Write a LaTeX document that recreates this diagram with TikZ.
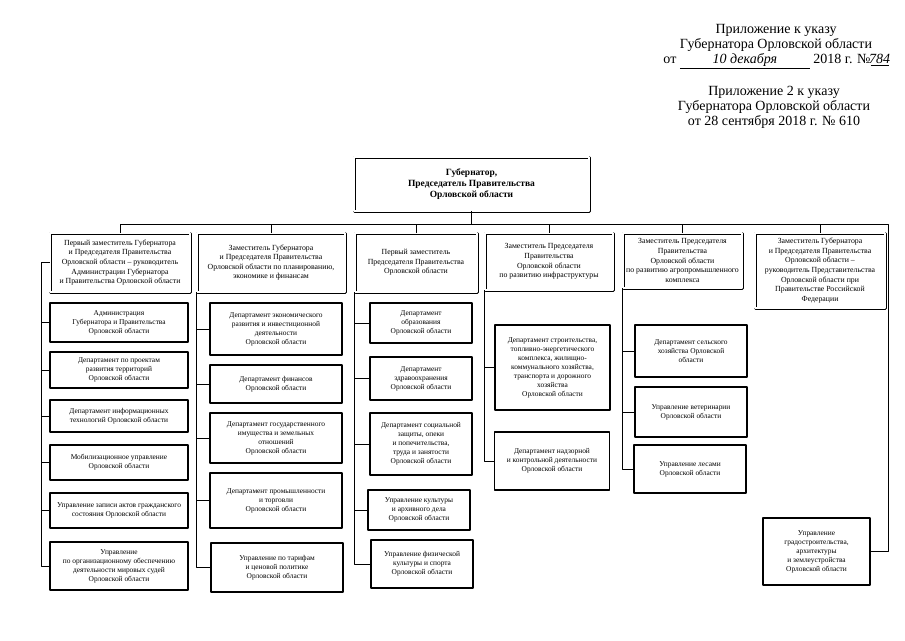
\documentclass[tikz,border=0pt]{standalone}
\usepackage{fontspec}
\setmainfont{Liberation Serif}
\begin{document}
\begin{tikzpicture}[x=1pt,y=-1pt, line join=round,
	gov/.style={draw, double, double distance=1.6pt, line width=.7pt, align=center, inner sep=2pt, font=\bfseries\fontsize{9.5}{11}\selectfont},
	head/.style={draw, double, double distance=1.6pt, line width=.7pt, align=center, inner sep=1.5pt, font=\fontsize{7.8}{9.6}\selectfont},
	dept/.style={draw, line width=1.3pt, align=center, inner sep=2pt, font=\fontsize{7.4}{9}\selectfont},
	colA/.style={dept, minimum width=138pt},
	colB/.style={dept, minimum width=132pt},
	colC/.style={dept, minimum width=102pt},
	colD/.style={dept, minimum width=115pt},
	colE/.style={dept, minimum width=112pt},
	link/.style={line width=.9pt}]
	\useasboundingbox (0,0) rectangle (905,640);
	\node[align=center, inner sep=0pt, font=\fontsize{14}{15}\selectfont] (prilA) at (776,46.7) {Приложение к указу\\Губернатора Орловской области\\от \underline{\makebox[130pt]{\itshape 10 декабря}} 2018 г. №\underline{\makebox[18pt]{\itshape 784}}};
	\node[align=center, inner sep=0pt, font=\fontsize{14}{15}\selectfont] (prilB) at (774,107.5) {Приложение 2 к указу\\Губернатора Орловской области\\от 28 сентября 2018 г. № 610};
	\node[gov, minimum width=235pt, minimum height=54pt] (gov) at (471.5,184) {Губернатор,\\Председатель Правительства\\Орловской области};
	\node[head, minimum width=140pt, minimum height=59pt] (h1) at (120,262.5) {Первый заместитель Губернатора\\и Председателя Правительства\\Орловской области – руководитель\\Администрации Губернатора\\и Правительства Орловской области};
	\node[head, minimum width=148pt, minimum height=59pt] (h2) at (271,262.5) {Заместитель Губернатора\\и Председателя Правительства\\Орловской области по планированию,\\экономике и финансам};
	\node[head, minimum width=122pt, minimum height=59pt] (h3) at (416,262.5) {Первый заместитель\\Председателя Правительства\\Орловской области};
	\node[head, minimum width=128pt, minimum height=57pt] (h4) at (549,261.5) {Заместитель Председателя\\Правительства\\Орловской области\\по развитию инфраструктуры};
	\node[head, minimum width=119pt, minimum height=55pt] (h5) at (682.5,260.5) {Заместитель Председателя\\Правительства\\Орловской области\\по развитию агропромышленного\\комплекса};
	\node[head, minimum width=130pt, minimum height=75pt] (h6) at (820,270.5) {Заместитель Губернатора\\и Председателя Правительства\\Орловской области –\\руководитель Представительства\\Орловской области при\\Правительстве Российской\\Федерации};
	\node[colA, minimum height=39pt] (a1) at (119,322.5) {Администрация\\Губернатора и Правительства\\Орловской области};
	\node[colA, minimum height=36pt] (a2) at (119,370) {Департамент по проектам\\развития территорий\\Орловской области};
	\node[colA, minimum height=32pt] (a3) at (119,416) {Департамент информационных\\технологий Орловской области};
	\node[colA, minimum height=35pt] (a4) at (119,462.5) {Мобилизационное управление\\Орловской области};
	\node[colA, minimum height=35pt] (a5) at (119,510.5) {Управление записи актов гражданского\\состояния Орловской области};
	\node[colA, minimum height=48pt] (a6) at (119,566) {Управление\\по организационному обеспечению\\деятельности мировых судей\\Орловской области};
	\node[colB, minimum height=52pt] (b1) at (276,329) {Департамент экономического\\развития и инвестиционной\\деятельности\\Орловской области};
	\node[colB, minimum height=38pt] (b2) at (276,384) {Департамент финансов\\Орловской области};
	\node[colB, minimum height=50pt] (b3) at (276,438) {Департамент государственного\\имущества и земельных\\отношений\\Орловской области};
	\node[colB, minimum height=55pt] (b4) at (276,500.5) {Департамент промышленности\\и торговли\\Орловской области};
	\node[colB, minimum height=49pt] (b5) at (277,567.5) {Управление по тарифам\\и ценовой политике\\Орловской области};
	\node[colC, minimum height=40pt] (c1) at (421,323) {Департамент\\образования\\Орловской области};
	\node[colC, minimum height=43pt] (c2) at (421,378.5) {Департамент\\здравоохранения\\Орловской области};
	\node[colC, minimum height=62pt] (c3) at (421,444) {Департамент социальной\\защиты, опеки\\и попечительства,\\труда и занятости\\Орловской области};
	\node[colC, minimum height=40pt] (c4) at (419,510) {Управление культуры\\и архивного дела\\Орловской области};
	\node[colC, minimum height=48pt] (c5) at (422,564) {Управление физической\\культуры и спорта\\Орловской области};
	\node[colD, minimum height=85pt] (d1) at (552.5,367.5) {Департамент строительства,\\топливно-энергетического\\комплекса, жилищно-\\коммунального хозяйства,\\транспорта и дорожного\\хозяйства\\Орловской области};
	\node[colD, minimum height=58pt] (d2) at (552,461) {Департамент надзорной\\и контрольной деятельности\\Орловской области};
	\node[colE, minimum height=52pt] (e1) at (691,351) {Департамент сельского\\хозяйства Орловской\\области};
	\node[colE, minimum height=50pt] (e2) at (691,412) {Управление ветеринарии\\Орловской области};
	\node[colE, minimum height=48pt] (e3) at (690,469) {Управление лесами\\Орловской области};
	\node[dept, minimum width=107pt, minimum height=67pt] (f1) at (816.5,551.5) {Управление\\градостроительства,\\архитектуры\\и землеустройства\\Орловской области};
	\coordinate (busR) at (888,224);
	\coordinate (sp1) at ([xshift=-8pt]h1.west);
	\draw[link] (gov.south) -- (gov.south |- busR);
	\draw[link] (h1.north) |- (busR) |- (f1.east);
	\foreach \n in {h2,h3,h4,h5,h6}
		\draw[link] (\n.north) -- (\n.north |- busR);
	\draw[link] (h1.west) -- (sp1) |- (a6.west);
	\foreach \i in {1,...,5}
		\draw[link] (a\i.west) -- (a\i.west -| sp1);
	\foreach \c/\h/\k in {b/h2/5, c/h3/5, d/h4/2, e/h5/3}{
		\draw[link] (\h.south west) |- (\c\k.west);
		\foreach \i in {1,...,\k}
			\draw[link] (\c\i.west) -- (\c\i.west -| \h.south west);
	}
\end{tikzpicture}
\end{document}
